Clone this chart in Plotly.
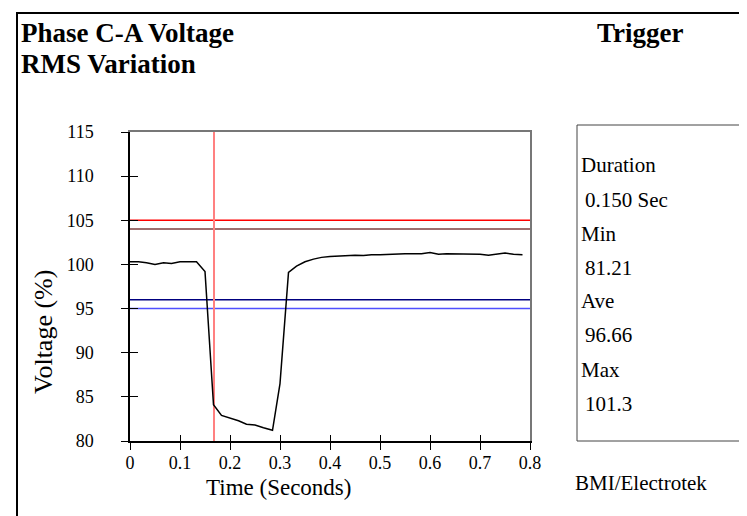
import plotly.graph_objects as go

# ---------------- data ----------------
time_s = [0.000, 0.017, 0.033, 0.050, 0.067, 0.083, 0.100, 0.117, 0.133, 0.150,
          0.167, 0.183, 0.200, 0.217, 0.233, 0.250, 0.267, 0.285, 0.300, 0.317,
          0.333, 0.350, 0.367, 0.383, 0.400, 0.417, 0.433, 0.450, 0.467, 0.483,
          0.500, 0.517, 0.533, 0.550, 0.567, 0.583, 0.600, 0.617, 0.633, 0.650,
          0.667, 0.683, 0.700, 0.717, 0.733, 0.750, 0.767, 0.785]
voltage_pct = [100.3, 100.3, 100.2, 100.0, 100.2, 100.1, 100.3, 100.3, 100.3, 99.2,
               84.1, 82.9, 82.6, 82.3, 81.9, 81.8, 81.5, 81.21, 86.5, 99.1,
               99.8, 100.3, 100.6, 100.8, 100.9, 100.95, 101.0, 101.05, 101.0, 101.1,
               101.1, 101.15, 101.2, 101.2, 101.2, 101.2, 101.35, 101.15, 101.2, 101.2,
               101.2, 101.2, 101.15, 101.05, 101.15, 101.3, 101.15, 101.1]

limit_values = [105, 104, 96, 95]
limit_colors = ["#ff0000", "#7f3f3f", "#000080", "#5050ff"]
trigger_time = 0.168

x_ticks = [0, 0.1, 0.2, 0.3, 0.4, 0.5, 0.6, 0.7, 0.8]
x_tick_labels = ["0", "0.1", "0.2", "0.3", "0.4", "0.5", "0.6", "0.7", "0.8"]
y_ticks = [80, 85, 90, 95, 100, 105, 110, 115]
y_tick_labels = ["80", "85", "90", "95", "100", "105", "110", "115"]

stats_labels = ["Duration", "Min", "Ave", "Max"]
stats_values = ["0.150 Sec", "81.21", "96.66", "101.3"]

title_lines = ["Phase C-A Voltage", "RMS Variation"]
trigger_title = "Trigger"
credit = "BMI/Electrotek"
x_title = "Time (Seconds)"
y_title = "Voltage (%)"

# ---------------- layout geometry (pixels) ----------------
W, H = 747, 516
L, R, T, B = 122, 522, 124, 433
PW, PH = R - L, B - T
FONT = "Liberation Serif, Times New Roman, serif"


def px(xp):
    return (xp - L) / PW


def py(yp):
    return (B - yp) / PH


fig = go.Figure()

# limit lines
for val, col in zip(limit_values, limit_colors):
    fig.add_trace(go.Scatter(x=[x_ticks[0], x_ticks[-1]], y=[val, val], mode="lines",
                             line=dict(color=col, width=1.5), hoverinfo="skip"))

# trigger line
fig.add_trace(go.Scatter(x=[trigger_time, trigger_time], y=[y_ticks[0], y_ticks[-1]],
                         mode="lines", line=dict(color="#ff8080", width=2), hoverinfo="skip"))

# rms curve
fig.add_trace(go.Scatter(x=time_s, y=voltage_pct, mode="lines",
                         line=dict(color="black", width=1.5)))

# dummy traces on helper axes
fig.add_trace(go.Scatter(x=[None], y=[None], xaxis="x2", yaxis="y2", showlegend=False))
fig.add_trace(go.Scatter(x=[None], y=[None], xaxis="x3", yaxis="y3", showlegend=False))

xr = [x_ticks[0], x_ticks[-1]]
yr = [y_ticks[0], y_ticks[-1]]

fig.update_layout(
    width=W, height=H,
    margin=dict(l=L, r=W - R, t=T, b=H - B),
    paper_bgcolor="white", plot_bgcolor="white",
    showlegend=False,
    font=dict(family=FONT, color="black", size=18),
    xaxis=dict(range=xr, tickvals=x_ticks, ticktext=x_tick_labels,
               showgrid=False, zeroline=False, showline=True, linecolor="black", linewidth=1.5,
               ticks="outside", ticklen=7, tickcolor="black", tickwidth=1.2,
               ticklabelstandoff=-2,
               tickfont=dict(family=FONT, size=18)),
    yaxis=dict(range=yr, tickvals=y_ticks, ticktext=y_tick_labels,
               showgrid=False, zeroline=False, showline=True, linecolor="black", linewidth=1.5,
               ticks="outside", ticklen=7, tickcolor="black", tickwidth=1.2,
               ticklabelstandoff=24,
               tickfont=dict(family=FONT, size=18)),
    # top / right gray frame
    xaxis2=dict(range=xr, overlaying="x", side="top", anchor="y", showline=True,
                linecolor="#777777", linewidth=1.5, showticklabels=False, ticks="",
                showgrid=False, zeroline=False),
    yaxis2=dict(range=yr, overlaying="y", side="right", anchor="x", showline=True,
                linecolor="#777777", linewidth=1.5, showticklabels=False, ticks="",
                showgrid=False, zeroline=False),
    # inside half of crossing ticks
    xaxis3=dict(range=xr, overlaying="x", side="bottom", anchor="y", tickvals=x_ticks,
                showticklabels=False, ticks="inside", ticklen=6, tickcolor="black",
                tickwidth=1.2, showline=False, showgrid=False, zeroline=False),
    yaxis3=dict(range=yr, overlaying="y", side="left", anchor="x", tickvals=y_ticks,
                showticklabels=False, ticks="inside", ticklen=8, tickcolor="black",
                tickwidth=1.2, showline=False, showgrid=False, zeroline=False),
)

# outer frame and stats box
fig.add_shape(type="rect", xref="paper", yref="paper",
              x0=px(9), x1=px(745), y0=py(522), y1=py(5),
              line=dict(color="black", width=2), fillcolor="rgba(0,0,0,0)", layer="below")
fig.add_shape(type="rect", xref="paper", yref="paper",
              x0=px(569), x1=px(737), y0=py(433), y1=py(117),
              line=dict(color="#444444", width=1), fillcolor="rgba(0,0,0,0)")

# axis titles
fig.add_annotation(text=x_title, xref="paper", yref="paper", x=px(270), y=py(479),
                   xanchor="center", yanchor="middle", showarrow=False,
                   font=dict(family=FONT, size=23))
fig.add_annotation(text=y_title, xref="paper", yref="paper", x=px(35), y=py(324),
                   xanchor="center", yanchor="middle", showarrow=False, textangle=-90,
                   font=dict(family=FONT, size=26))

# titles
fig.add_annotation(text="<b>%s</b>" % title_lines[0], xref="paper", yref="paper",
                   x=px(11), y=py(25), xanchor="left", yanchor="middle", showarrow=False,
                   font=dict(family=FONT, size=27))
fig.add_annotation(text="<b>%s</b>" % title_lines[1], xref="paper", yref="paper",
                   x=px(11), y=py(56), xanchor="left", yanchor="middle", showarrow=False,
                   font=dict(family=FONT, size=27))
fig.add_annotation(text="<b>%s</b>" % trigger_title, xref="paper", yref="paper",
                   x=px(632), y=py(25), xanchor="center", yanchor="middle", showarrow=False,
                   font=dict(family=FONT, size=27))

# stats text
row_y = [157, 192, 226, 260, 293, 327, 362, 396]
for i, (lab, val) in enumerate(zip(stats_labels, stats_values)):
    fig.add_annotation(text=lab, xref="paper", yref="paper", x=px(571), y=py(row_y[2 * i]),
                       xanchor="left", yanchor="middle", showarrow=False,
                       font=dict(family=FONT, size=21))
    fig.add_annotation(text=val, xref="paper", yref="paper", x=px(575), y=py(row_y[2 * i + 1]),
                       xanchor="left", yanchor="middle", showarrow=False,
                       font=dict(family=FONT, size=21))

fig.add_annotation(text=credit, xref="paper", yref="paper", x=px(633), y=py(475),
                   xanchor="center", yanchor="middle", showarrow=False,
                   font=dict(family=FONT, size=21))

fig.write_html("out.html")
